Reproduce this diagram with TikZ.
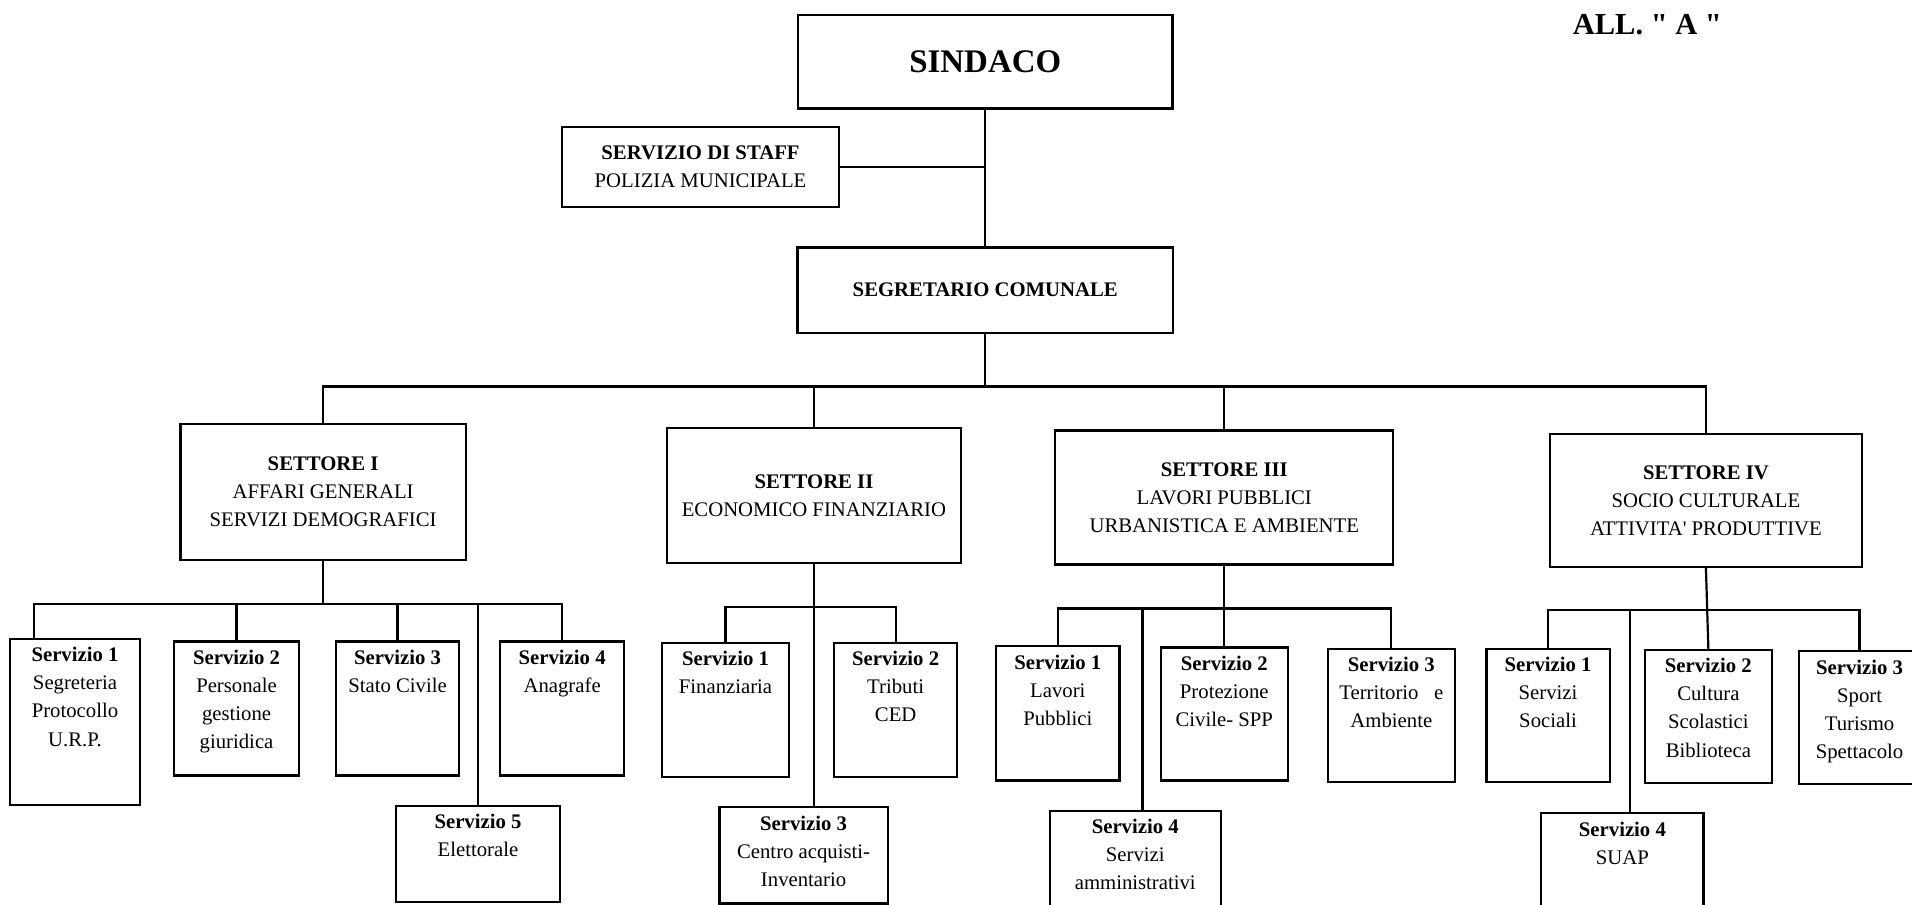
\documentclass[tikz,border=0pt]{standalone}
\usepackage{fontspec}
\setmainfont{Liberation Serif}
\usepackage{tikz}
\usetikzlibrary{positioning}

\begin{document}
\begin{tikzpicture}[x=1pt,y=-1pt,line width=1.8pt,
    box/.style={draw,line width=1.8pt,inner sep=0pt,align=center,font=\fontsize{17}{23}\selectfont},
    txt/.style={anchor=north,inner sep=0pt,yshift=-7pt,align=center,font=\fontsize{17}{23}\selectfont}]
    \useasboundingbox (0,0) rectangle (1568,742);

    \node[font=\fontsize{25}{30}\selectfont\bfseries] (all) at (1351,20) {ALL. \textquotedbl\ A \textquotedbl};

    \node[box,minimum width=307pt,minimum height=77pt,font=\fontsize{27}{32}\selectfont\bfseries] (sind) at (808,50.5) {SINDACO};
    \node[box,minimum width=227pt,minimum height=66pt] (staff) at (574.5,137) {\textbf{SERVIZIO DI STAFF}\\POLIZIA MUNICIPALE};
    \node[box,minimum width=308pt,minimum height=70pt] (segr) at (808,238) {\textbf{SEGRETARIO COMUNALE}};

    \node[box,minimum width=234pt,minimum height=111pt] (set1) at (265,403.5) {\textbf{SETTORE I}\\AFFARI GENERALI\\SERVIZI DEMOGRAFICI};
    \node[box,minimum width=241pt,minimum height=111pt] (set2) at (667.5,406.5) {\textbf{SETTORE II}\\ECONOMICO FINANZIARIO};
    \node[box,minimum width=277pt,minimum height=110pt] (set3) at (1004,408) {\textbf{SETTORE III}\\LAVORI PUBBLICI\\URBANISTICA E AMBIENTE};
    \node[box,minimum width=256pt,minimum height=109pt] (set4) at (1399,410.5) {\textbf{SETTORE IV}\\SOCIO CULTURALE\\ATTIVITA\textquotesingle\ PRODUTTIVE};

    \node[box,minimum width=107pt,minimum height=136pt] (s11) at (61.5,592) {};
    \node[box,minimum width=103pt,minimum height=110pt] (s12) at (194,581) {};
    \node[box,minimum width=101pt,minimum height=110pt] (s13) at (326,581) {};
    \node[box,minimum width=102pt,minimum height=110pt] (s14) at (461,581) {};
    \node[box,minimum width=135pt,minimum height=79pt] (s15) at (392,700.5) {};
    \node[txt] at (s11.north) {\textbf{Servizio 1}\\Segreteria\\Protocollo\\U.R.P.};
    \node[txt] at (s12.north) {\textbf{Servizio 2}\\Personale\\gestione\\giuridica};
    \node[txt] at (s13.north) {\textbf{Servizio 3}\\Stato Civile};
    \node[txt] at (s14.north) {\textbf{Servizio 4}\\Anagrafe};
    \node[txt] at (s15.north) {\textbf{Servizio 5}\\Elettorale};

    \node[box,minimum width=104pt,minimum height=110pt] (s21) at (595,582) {};
    \node[box,minimum width=101pt,minimum height=110pt] (s22) at (734.5,582) {};
    \node[box,minimum width=138pt,minimum height=79pt] (s23) at (659,701.5) {};
    \node[txt] at (s21.north) {\textbf{Servizio 1}\\Finanziaria};
    \node[txt] at (s22.north) {\textbf{Servizio 2}\\Tributi\\CED};
    \node[txt] at (s23.north) {\textbf{Servizio 3}\\Centro acquisti-\\Inventario};

    \node[box,minimum width=101pt,minimum height=110pt] (s31) at (867.5,585) {};
    \node[box,minimum width=104pt,minimum height=109pt] (s32) at (1004,585.5) {};
    \node[box,minimum width=104pt,minimum height=109pt] (s33) at (1141,586.5) {};
    \node[box,minimum width=140pt,minimum height=100pt] (s34) at (931,715) {};
    \node[txt] at (s31.north) {\textbf{Servizio 1}\\Lavori\\Pubblici};
    \node[txt] at (s32.north) {\textbf{Servizio 2}\\Protezione\\Civile- SPP};
    \node[txt] at (s33.north) {\textbf{Servizio 3}\\Territorio\ \ \ e\\Ambiente};
    \node[txt] at (s34.north) {\textbf{Servizio 4}\\Servizi\\amministrativi};

    \node[box,minimum width=101pt,minimum height=109pt] (s41) at (1269.5,586.5) {};
    \node[box,minimum width=104pt,minimum height=109pt] (s42) at (1401,587.5) {};
    \node[box,minimum width=100pt,minimum height=109pt] (s43) at (1525,588.5) {};
    \node[box,minimum width=133pt,minimum height=100pt] (s44) at (1330.5,717) {};
    \node[txt] at (s41.north) {\textbf{Servizio 1}\\Servizi\\Sociali};
    \node[txt] at (s42.north) {\textbf{Servizio 2}\\Cultura\\Scolastici\\Biblioteca};
    \node[txt] at (s43.north) {\textbf{Servizio 3}\\Sport\\Turismo\\Spettacolo};
    \node[txt] at (s44.north) {\textbf{Servizio 4}\\SUAP};

    \coordinate (bus) at (808,317);
    \coordinate (d11) at (28,495);
    \coordinate (b2) at (667.5,498);
    \coordinate (b3) at (1004,499);
    \coordinate (d34) at (937,499);
    \coordinate (b4) at (1399,500);
    \coordinate (d44) at (1337,500);

    \draw (sind.south) -- (segr.north);
    \draw (staff.east) -- (staff.east -| sind.south);
    \draw (segr.south) -- (bus);
    \draw (set1.north) -- (set1.north |- bus) -- (set4.north |- bus) -- (set4.north);
    \draw (set2.north) -- (set2.north |- bus);
    \draw (set3.north) -- (set3.north |- bus);

    \draw (set1.south) -- (set1.south |- d11);
    \draw (d11 |- s11.north) -- (d11) -- (s14.north |- d11) -- (s14.north);
    \draw (s12.north) -- (s12.north |- d11);
    \draw (s13.north) -- (s13.north |- d11);
    \draw (s15.north) -- (s15.north |- d11);

    \draw (set2.south) -- (set2.south |- s23.north);
    \draw (s21.north) -- (s21.north |- b2) -- (s22.north |- b2) -- (s22.north);

    \draw (set3.south) -- (s32.north);
    \draw (s31.north) -- (s31.north |- b3) -- (s33.north |- b3) -- (s33.north);
    \draw (d34) -- (d34 |- s34.north);

    \draw (set4.south) -- (s42.north);
    \draw (s41.north) -- (s41.north |- b4) -- (s43.north |- b4) -- (s43.north);
    \draw (d44) -- (d44 |- s44.north);
\end{tikzpicture}
\end{document}
